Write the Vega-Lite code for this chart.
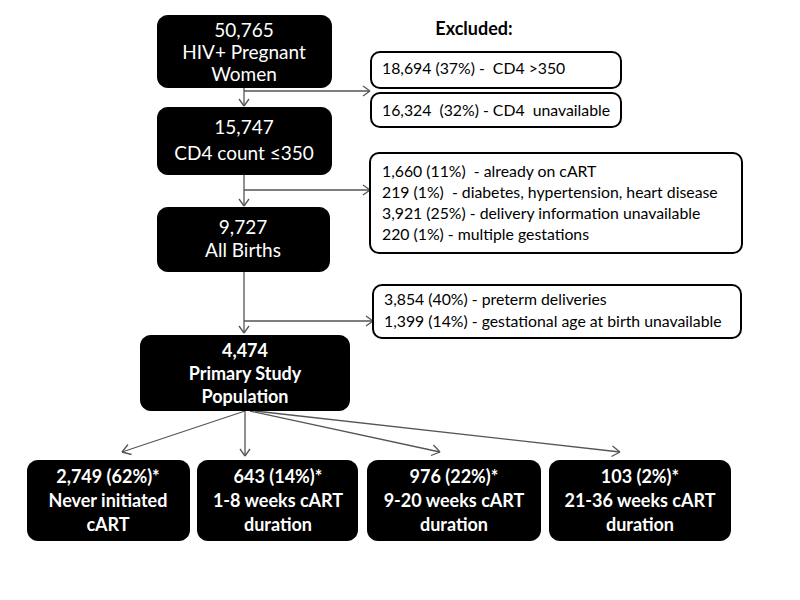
{
  "$schema": "https://vega.github.io/schema/vega-lite/v6.json",
  "width": 800,
  "height": 600,
  "padding": 0,
  "autosize": {"type": "fit", "contains": "padding"},
  "background": "white",
  "config": {"view": {"stroke": null}},
  "datasets": {
    "boxes": [
      {"id": "total", "kind": "main", "x": 157, "x2": 332, "y": 15, "y2": 88},
      {"id": "cd4", "kind": "main", "x": 157, "x2": 332, "y": 107, "y2": 175},
      {"id": "births", "kind": "main", "x": 157, "x2": 330, "y": 207, "y2": 272},
      {"id": "primary", "kind": "main", "x": 140, "x2": 350, "y": 335, "y2": 411},
      {"id": "never", "kind": "main", "x": 27, "x2": 190, "y": 460, "y2": 541},
      {"id": "w1_8", "kind": "main", "x": 197, "x2": 358, "y": 460, "y2": 541},
      {"id": "w9_20", "kind": "main", "x": 367, "x2": 541, "y": 460, "y2": 541},
      {"id": "w21_36", "kind": "main", "x": 549, "x2": 731, "y": 460, "y2": 541},
      {"id": "ex1", "kind": "excl", "x": 371, "x2": 621, "y": 52, "y2": 88},
      {"id": "ex2", "kind": "excl", "x": 371, "x2": 621, "y": 93, "y2": 127},
      {"id": "ex3", "kind": "excl", "x": 370, "x2": 742, "y": 153, "y2": 253},
      {"id": "ex4", "kind": "excl", "x": 373, "x2": 741, "y": 285, "y2": 338}
    ],
    "texts": [
      {"kind": "main", "x": 244, "y": 31, "t": "50,765"},
      {"kind": "main", "x": 244, "y": 53, "t": "HIV+ Pregnant"},
      {"kind": "main", "x": 244, "y": 75, "t": "Women"},
      {"kind": "main", "x": 244, "y": 128, "t": "15,747"},
      {"kind": "main", "x": 244, "y": 154, "t": "CD4 count ≤350"},
      {"kind": "main", "x": 243, "y": 228, "t": "9,727"},
      {"kind": "main", "x": 243, "y": 251, "t": "All Births"},
      {"kind": "bold", "x": 245, "y": 352, "t": "4,474"},
      {"kind": "bold", "x": 245, "y": 375, "t": "Primary Study"},
      {"kind": "bold", "x": 245, "y": 398, "t": "Population"},
      {"kind": "bold", "x": 108, "y": 478, "t": "2,749 (62%)*"},
      {"kind": "bold", "x": 108, "y": 502, "t": "Never initiated"},
      {"kind": "bold", "x": 108, "y": 526, "t": "cART"},
      {"kind": "bold", "x": 278, "y": 478, "t": "643 (14%)*"},
      {"kind": "bold", "x": 278, "y": 502, "t": "1-8 weeks cART"},
      {"kind": "bold", "x": 278, "y": 526, "t": "duration"},
      {"kind": "bold", "x": 454, "y": 478, "t": "976 (22%)*"},
      {"kind": "bold", "x": 454, "y": 502, "t": "9-20 weeks cART"},
      {"kind": "bold", "x": 454, "y": 526, "t": "duration"},
      {"kind": "bold", "x": 640, "y": 478, "t": "103 (2%)*"},
      {"kind": "bold", "x": 640, "y": 502, "t": "21-36 weeks cART"},
      {"kind": "bold", "x": 640, "y": 526, "t": "duration"},
      {"kind": "head", "x": 474, "y": 30, "t": "Excluded:"},
      {"kind": "excl", "x": 382, "y": 69, "t": "18,694 (37%) -\u00a0 CD4 >350"},
      {"kind": "excl", "x": 382, "y": 111, "t": "16,324\u00a0 (32%) - CD4\u00a0 unavailable"},
      {"kind": "excl", "x": 382, "y": 172, "t": "1,660 (11%)\u00a0 - already on cART"},
      {"kind": "excl", "x": 382, "y": 193, "t": "219 (1%)\u00a0 - diabetes, hypertension, heart disease"},
      {"kind": "excl", "x": 382, "y": 214, "t": "3,921 (25%) - delivery information unavailable"},
      {"kind": "excl", "x": 382, "y": 235, "t": "220 (1%) - multiple gestations"},
      {"kind": "excl", "x": 384, "y": 300, "t": "3,854 (40%) - preterm deliveries"},
      {"kind": "excl", "x": 384, "y": 322, "t": "1,399 (14%) - gestational age at birth unavailable"}
    ],
    "lines": [
      {"x": 244, "y": 88, "x2": 244, "y2": 106},
      {"x": 239, "y": 99, "x2": 244, "y2": 106},
      {"x": 249, "y": 99, "x2": 244, "y2": 106},
      {"x": 244, "y": 91, "x2": 370, "y2": 91},
      {"x": 363, "y": 86, "x2": 370, "y2": 91},
      {"x": 363, "y": 96, "x2": 370, "y2": 91},
      {"x": 244, "y": 175, "x2": 244, "y2": 206},
      {"x": 239, "y": 199, "x2": 244, "y2": 206},
      {"x": 249, "y": 199, "x2": 244, "y2": 206},
      {"x": 244, "y": 190, "x2": 370, "y2": 190},
      {"x": 363, "y": 185, "x2": 370, "y2": 190},
      {"x": 363, "y": 195, "x2": 370, "y2": 190},
      {"x": 244, "y": 272, "x2": 244, "y2": 333},
      {"x": 239, "y": 326, "x2": 244, "y2": 333},
      {"x": 249, "y": 326, "x2": 244, "y2": 333},
      {"x": 244, "y": 321, "x2": 373, "y2": 321},
      {"x": 366, "y": 316, "x2": 373, "y2": 321},
      {"x": 366, "y": 326, "x2": 373, "y2": 321},
      {"x": 245, "y": 411, "x2": 122, "y2": 452},
      {"x": 131.5, "y": 454.5, "x2": 122, "y2": 452},
      {"x": 128, "y": 444.5, "x2": 122, "y2": 452},
      {"x": 245, "y": 411, "x2": 245, "y2": 456},
      {"x": 240, "y": 449, "x2": 245, "y2": 456},
      {"x": 250, "y": 449, "x2": 245, "y2": 456},
      {"x": 250, "y": 411, "x2": 440, "y2": 452},
      {"x": 431, "y": 455.5, "x2": 440, "y2": 452},
      {"x": 433.5, "y": 445, "x2": 440, "y2": 452},
      {"x": 255, "y": 411, "x2": 620, "y2": 452},
      {"x": 611.5, "y": 456.5, "x2": 620, "y2": 452},
      {"x": 612.5, "y": 446, "x2": 620, "y2": 452}
    ]
  },
  "encoding": {
    "x": {"field": "x", "type": "quantitative", "scale": {"domain": [0, 800], "nice": false, "zero": false}, "axis": null},
    "y": {"field": "y", "type": "quantitative", "scale": {"domain": [0, 600], "nice": false, "zero": false, "reverse": true}, "axis": null}
  },
  "layer": [
    {
      "data": {"name": "lines"},
      "mark": {"type": "rule", "color": "#555555", "strokeWidth": 1.3},
      "encoding": {"x2": {"field": "x2"}, "y2": {"field": "y2"}}
    },
    {
      "data": {"name": "boxes"},
      "transform": [{"filter": "datum.kind === 'main'"}],
      "mark": {"type": "rect", "color": "black", "cornerRadius": 11},
      "encoding": {"x2": {"field": "x2"}, "y2": {"field": "y2"}}
    },
    {
      "data": {"name": "boxes"},
      "transform": [{"filter": "datum.kind === 'excl'"}],
      "mark": {"type": "rect", "fill": "white", "stroke": "black", "strokeWidth": 2, "cornerRadius": 9},
      "encoding": {"x2": {"field": "x2"}, "y2": {"field": "y2"}}
    },
    {
      "data": {"name": "texts"},
      "transform": [{"filter": "datum.kind === 'main'"}],
      "mark": {"type": "text", "color": "white", "font": "Lato", "fontSize": 19, "align": "center", "baseline": "middle"},
      "encoding": {"text": {"field": "t"}}
    },
    {
      "data": {"name": "texts"},
      "transform": [{"filter": "datum.kind === 'bold'"}],
      "mark": {"type": "text", "color": "white", "font": "Lato", "fontWeight": "bold", "fontSize": 18, "align": "center", "baseline": "middle"},
      "encoding": {"text": {"field": "t"}}
    },
    {
      "data": {"name": "texts"},
      "transform": [{"filter": "datum.kind === 'head'"}],
      "mark": {"type": "text", "color": "black", "font": "Lato", "fontWeight": "bold", "fontSize": 18, "align": "center", "baseline": "middle"},
      "encoding": {"text": {"field": "t"}}
    },
    {
      "data": {"name": "texts"},
      "transform": [{"filter": "datum.kind === 'excl'"}],
      "mark": {"type": "text", "color": "black", "font": "Lato", "fontSize": 15.8, "align": "left", "baseline": "middle"},
      "encoding": {"text": {"field": "t"}}
    }
  ]
}
